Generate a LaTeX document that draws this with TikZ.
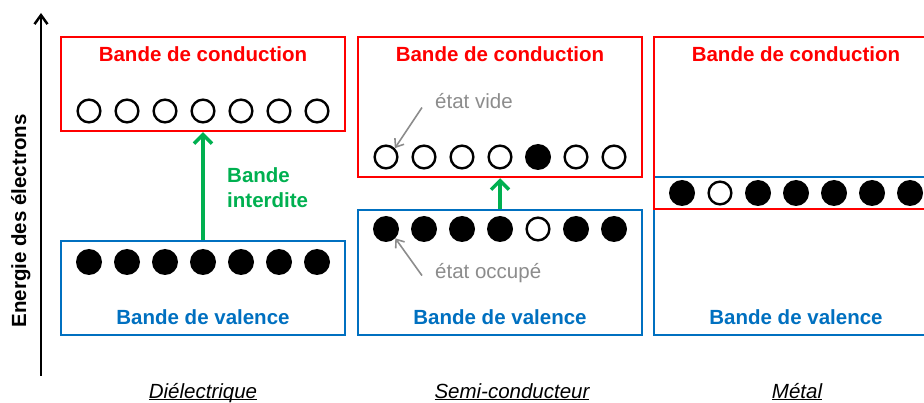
\documentclass[tikz,border=0pt]{standalone}
\usepackage{fontspec}
\setmainfont{Liberation Sans}
\usepackage{tikz}
\usetikzlibrary{arrows.meta,calc}
\definecolor{bandred}{RGB}{255,0,0}
\definecolor{bandblue}{RGB}{0,112,192}
\definecolor{gapgreen}{RGB}{0,176,80}
\definecolor{notegray}{RGB}{140,140,140}
\newcommand{\matname}[1]{\underline{\smash{#1}}}
\tikzset{
	band diagram/.style={
		x=1pt, y=-1pt,
		every node/.style={font=\fontsize{20.5}{24}\selectfont}},
	cond/.style={draw=bandred, line width=2.5pt, minimum width=284pt, inner sep=0pt},
	val/.style={draw=bandblue, line width=2.5pt, minimum width=284pt, inner sep=0pt},
	band title/.style={font=\fontsize{20.5}{24}\selectfont\bfseries, anchor=base, inner sep=0pt},
	empty/.style={circle, draw, line width=2.4pt, minimum size=22.7pt, inner sep=0pt},
	full/.style={circle, fill, minimum size=26pt, inner sep=0pt},
	gap/.style={draw=gapgreen, line width=3.5pt, -{Straight Barb[length=9pt,width=18pt]}},
	note/.style={text=notegray, anchor=base west, inner sep=0pt},
	pointer/.style={draw=notegray, line width=1.6pt, -{Straight Barb[length=7pt,width=11pt]}},
	material/.style={font=\fontsize{20.5}{24}\selectfont\itshape, anchor=base, inner sep=0pt}
}

\begin{document}
\begin{tikzpicture}[band diagram]
  \useasboundingbox (0,0) rectangle (924,403);
  % energy axis
  \coordinate (axis bottom) at (41,376);
  \coordinate (axis top) at (41,13);
  \draw[line width=2.5pt, -{Straight Barb[length=9pt,width=13pt]}] (axis bottom) -- (axis top);
  \node[rotate=90, anchor=base, inner sep=0pt, font=\fontsize{20.5}{24}\selectfont\bfseries]
        (energy) at (26,221) {Energie des électrons};

  % dielectrique
  \node[cond, minimum height=94pt] (Dcond) at (203,84) {};
  \node[val, minimum height=94pt] (Dval) at (203,288) {};
  \node[band title, text=bandred] (Dcond title) at (203,62) {Bande de conduction};
  \node[band title, text=bandblue] (Dval title) at (203,325) {Bande de valence};
  \foreach \i in {1,...,7} {
    \node[empty] (Dc\i) at ({203+38*(\i-4)},111) {};
    \node[full] (Dv\i) at ({203+38*(\i-4)},262) {};
  }
  \draw[gap] (Dval.north) -- (Dcond.south);
  \node[band title, text=gapgreen, anchor=base west] (Dgap1) at (227,183) {Bande};
  \node[band title, text=gapgreen, anchor=base west] (Dgap2) at (227,208) {interdite};

  % semi-conducteur
  \node[cond, minimum height=140pt] (Scond) at (500,107) {};
  \node[val, minimum height=125pt] (Sval) at (500,272.5) {};
  \node[band title, text=bandred] (Scond title) at (500,62) {Bande de conduction};
  \node[band title, text=bandblue] (Sval title) at (500,325) {Bande de valence};
  \foreach \i/\c/\v in {1/empty/full,2/empty/full,3/empty/full,4/empty/full,
                        5/full/empty,6/empty/full,7/empty/full} {
    \node[\c] (Sc\i) at ({500+38*(\i-4)},157) {};
    \node[\v] (Sv\i) at ({500+38*(\i-4)},229) {};
  }
  \draw[gap] (Sval.north) -- (Scond.south);
  \node[note] (vide) at (435,109) {état vide};
  \node[note] (occupe) at (435,279) {état occupé};
  \draw[pointer] ([shift={(-13,6)}]vide.west) -- (Sc1.north east);
  \draw[pointer] ([shift={(-13,2)}]occupe.west) -- (Sv1.south east);

  % metal
  \node[val, minimum height=158pt] (Mval) at (796,256) {};
  \node[cond, minimum height=172pt] (Mcond) at (796,123) {};
  \node[band title, text=bandred] (Mcond title) at (796,62) {Bande de conduction};
  \node[band title, text=bandblue] (Mval title) at (796,325) {Bande de valence};
  \foreach \i/\s in {1/full,2/empty,3/full,4/full,5/full,6/full,7/full}
    \node[\s] (M\i) at ({796+38*(\i-4)},193) {};

  % materiaux
  \node[material] (diel) at (203,398) {\matname{Diélectrique}};
  \node[material] (semi) at (512,398) {\matname{Semi-conducteur}};
  \node[material] (metal) at (797,398) {\matname{Métal}};
\end{tikzpicture}
\end{document}
